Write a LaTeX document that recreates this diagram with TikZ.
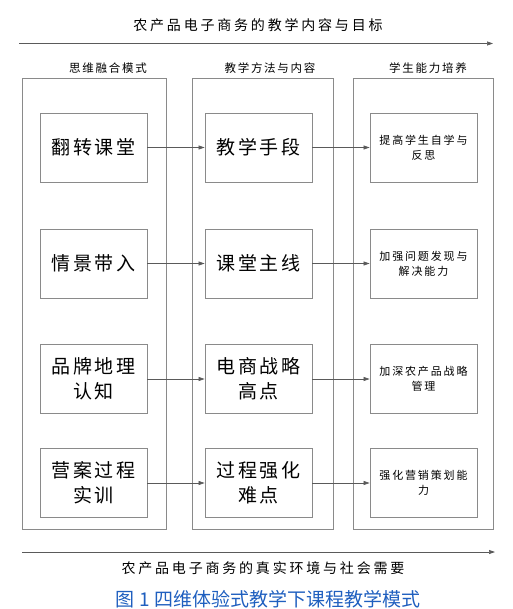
\documentclass[tikz,border=0pt]{standalone}
\usepackage{fontspec}
\usepackage{xcolor}
\usetikzlibrary{arrows.meta}
\setmainfont{Liberation Serif}
\newfontfamily\cjk{Noto Sans CJK SC}
\newfontfamily\cjktitle[LetterSpace=20]{Noto Sans CJK SC}
\newfontfamily\cjkhead[LetterSpace=15]{Noto Sans CJK SC}
\newfontfamily\cjkbig[LetterSpace=15]{Noto Sans CJK SC}
\newfontfamily\cjksmall[LetterSpace=17]{Noto Sans CJK SC}
\definecolor{boxgray}{HTML}{8A8A8A}
\definecolor{linkgray}{HTML}{5A5A5A}
\definecolor{capblue}{HTML}{1F5FBF}

\begin{document}
\begin{tikzpicture}[x=1pt,y=-1pt,
  outer/.style={draw=boxgray,line width=0.8pt},
  inbox/.style={draw=boxgray,line width=0.8pt,minimum width=107pt,minimum height=69pt,inner sep=0pt,align=center},
  bigtxt/.style={inbox,font=\fontsize{19}{25}\selectfont\cjkbig},
  smalltxt/.style={inbox,font=\fontsize{11}{15}\selectfont\cjksmall},
  headtxt/.style={font=\fontsize{11.5}{14}\selectfont\cjkhead,inner sep=0pt},
  link/.style={draw=linkgray,line width=0.7pt,-{Triangle[length=6pt,width=4pt]}}]
  \useasboundingbox (0,0) rectangle (512,609);

  % top: goal line
  \node[font=\fontsize{14}{16}\selectfont\cjktitle,inner sep=0pt] (title) at (258,25) {农产品电子商务的教学内容与目标};
  \coordinate (topa) at (19,43.5);
  \coordinate (topb) at (493,43.5);
  \draw[link] (topa) -- (topb);

  % three columns
  \node[headtxt] (head1) at (108,68) {思维融合模式};
  \node[headtxt] (head2) at (270,68) {教学方法与内容};
  \node[headtxt] (head3) at (428,68) {学生能力培养};
  \draw[outer] (22,78) rectangle (166,529);
  \draw[outer] (192,78) rectangle (333,529);
  \draw[outer] (353,78) rectangle (493,529);

  % thinking modes
  \node[bigtxt] (fz) at (93.5,147.5) {翻转课堂};
  \node[bigtxt] (qj) at (93.5,263.5) {情景带入};
  \node[bigtxt] (pp) at (93.5,379) {品牌地理\\认知};
  \node[bigtxt] (ya) at (93.5,483) {营案过程\\实训};

  % methods and content
  \node[bigtxt] (sd) at (258.5,147.5) {教学手段};
  \node[bigtxt] (zx) at (258.5,263.5) {课堂主线};
  \node[bigtxt] (zl) at (258.5,379) {电商战略\\高点};
  \node[bigtxt] (nd) at (258.5,483) {过程强化\\难点};

  % abilities
  \node[smalltxt] (fs) at (423.5,147.5) {提高学生自学与\\反思};
  \node[smalltxt] (wt) at (423.5,263.5) {加强问题发现与\\解决能力};
  \node[smalltxt] (gl) at (423.5,379) {加深农产品战略\\管理};
  \node[smalltxt] (yx) at (423.5,483) {强化营销策划能\\力};

  \draw[link] (fz) -- (sd);
  \draw[link] (qj) -- (zx);
  \draw[link] (pp) -- (zl);
  \draw[link] (ya) -- (nd);
  \draw[link] (sd) -- (fs);
  \draw[link] (zx) -- (wt);
  \draw[link] (zl) -- (gl);
  \draw[link] (nd) -- (yx);

  % bottom: real environment line
  \coordinate (bota) at (22,552);
  \coordinate (botb) at (495,552);
  \draw[link] (bota) -- (botb);
  \node[font=\fontsize{14}{16}\selectfont\cjktitle,inner sep=0pt] (env) at (263,568) {农产品电子商务的真实环境与社会需要};

  \node[font=\fontsize{19}{22}\selectfont\cjk,text=capblue,inner sep=0pt] (cap) at (268,599) {图 1 四维体验式教学下课程教学模式};
\end{tikzpicture}
\end{document}
